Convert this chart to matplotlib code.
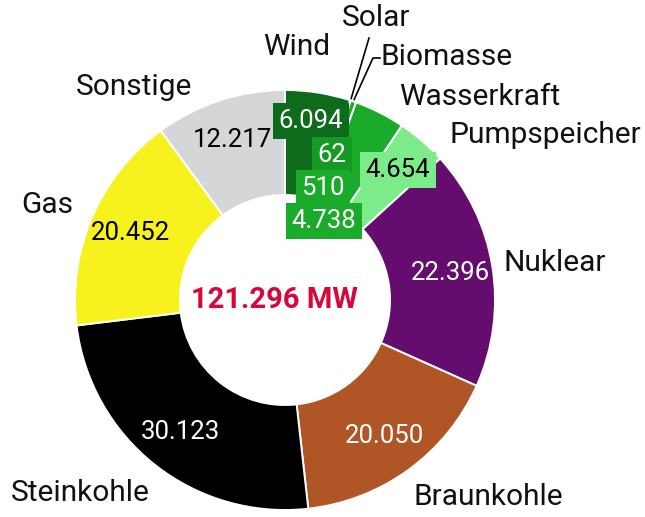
import numpy as np
import matplotlib.pyplot as plt

plt.rcParams['font.family'] = ['Roboto', 'DejaVu Sans']

# installed capacity in MW, clockwise from the top
sources = ['Wind', 'Solar', 'Biomasse', 'Wasserkraft', 'Pumpspeicher',
           'Nuklear', 'Braunkohle', 'Steinkohle', 'Gas', 'Sonstige']
values = [6094, 62, 510, 4738, 4654, 22396, 20050, 30123, 20452, 12217]
value_labels = ['6.094', '62', '510', '4.738', '4.654',
                '22.396', '20.050', '30.123', '20.452', '12.217']
colors = ['#0f6b1c', '#179a24', '#1aab2b', '#1aab2b', '#7bec89',
          '#640d6e', '#b05526', '#000000', '#f7f21d', '#d5d6d8']
total_label = '121.296 MW'

W, H = 645, 517
cx, cy, R = 285, H - 300, 210

fig = plt.figure(figsize=(6.45, 5.17), dpi=100)
ax = fig.add_axes([0, 0, 1, 1])

wedges, _ = ax.pie(values, colors=colors, startangle=90, counterclock=False,
                   radius=R, center=(cx, cy), explode=[0.014] * len(values),
                   wedgeprops=dict(width=R * 0.5, edgecolor='white', linewidth=1.4))
# pie resets the limits, so set them afterwards
ax.set_xlim(0, W)
ax.set_ylim(0, H)
ax.set_aspect('equal')
ax.axis('off')

# value labels inside the big wedges
for i in range(5, 10):
    w = wedges[i]
    ang = np.deg2rad((w.theta1 + w.theta2) / 2)
    x = cx + 0.8 * R * np.cos(ang)
    y = cy + 0.8 * R * np.sin(ang)
    tc = 'white' if i in (5, 6, 7) else 'black'
    ax.text(x, y, value_labels[i], ha='center', va='center', fontsize=18.5, color=tc)

# stacked boxes for the small green segments
box_pos = [(311, 121), (332, 155), (323, 188), (324, 221), (398, 170)]
for i, (bx, by) in enumerate(box_pos):
    tc = 'black' if i == 4 else 'white'
    ax.text(bx, H - by, value_labels[i], ha='center', va='center', fontsize=18.5, color=tc,
            zorder=5, bbox=dict(boxstyle='square,pad=0.22', fc=colors[i], ec='none'))

# category names
name_pos = {'Wind': (297, 47), 'Solar': (376, 18), 'Biomasse': (447, 57),
            'Wasserkraft': (480, 97), 'Pumpspeicher': (545, 135),
            'Nuklear': (555, 263), 'Braunkohle': (488, 497),
            'Steinkohle': (80, 493), 'Gas': (47, 205), 'Sonstige': (134, 87)}
for name in sources:
    px, py = name_pos[name]
    ax.text(px, H - py, name, ha='center', va='center', fontsize=21.5, color='#111111')

# leader lines for Solar and Biomasse
for i, end in ((1, [(369, 38)]), (2, [(373, 58), (380, 58)])):
    w = wedges[i]
    ang = np.deg2rad((w.theta1 + w.theta2) / 2)
    x0 = cx + 1.01 * R * np.cos(ang)
    y0 = cy + 1.01 * R * np.sin(ang)
    xs = [x0] + [p[0] for p in end]
    ys = [y0] + [H - p[1] for p in end]
    ax.plot(xs, ys, color='black', lw=1.2, zorder=4)

ax.text(cx - 11, cy, total_label, ha='center', va='center', fontsize=21,
        fontweight='bold', color='#d6073b')

fig.savefig('out.png', dpi=100)
